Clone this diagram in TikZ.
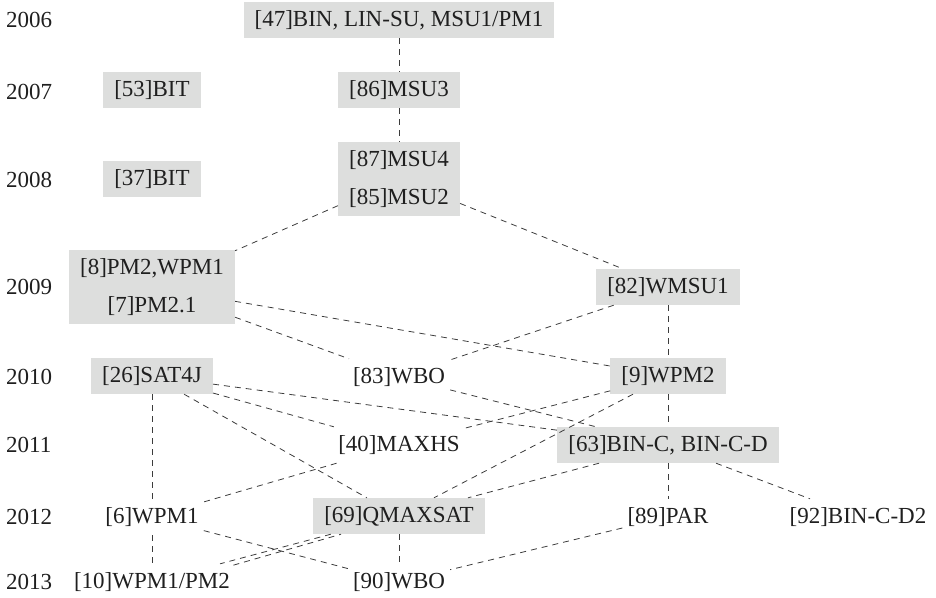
\documentclass[tikz,border=0pt]{standalone}
\usepackage{fontspec}
\setmainfont{Liberation Serif}
\usepackage{xcolor}
\usetikzlibrary{calc}

\definecolor{boxgray}{RGB}{221,222,221}
\definecolor{linkgray}{RGB}{60,60,60}

\begin{document}
\begin{tikzpicture}[x=1pt,y=-1pt,
    every node/.style={font=\fontsize{23}{38}\selectfont, text=black!88},
    box/.style={fill=boxgray, inner xsep=11pt, minimum height=36pt, align=center},
    free/.style={inner xsep=5pt, minimum height=36pt},
    link/.style={draw=linkgray, line width=0.8pt, dash pattern=on 6pt off 5pt}]

% Fix the canvas size
\useasboundingbox (0,0) rectangle (936,597);

% Define the column positions
\def\colA{152}
\def\colB{399}
\def\colC{668}

% Year labels on the left
\foreach \yr/\ypos in {2006/20, 2007/92, 2008/180, 2009/287, 2010/377, 2011/445, 2012/517, 2013/582} {
    \node[anchor=west, inner sep=0pt] (y\yr) at (6,\ypos) {\yr};
}

% Shaded papers
\node[box] (n47) at (\colB,20) {[47]BIN, LIN-SU, MSU1/PM1};
\node[box] (n53) at (\colA,90) {[53]BIT};
\node[box] (n86) at (\colB,90) {[86]MSU3};
\node[box] (n37) at (\colA,179) {[37]BIT};
\node[box, minimum height=74pt] (n85) at (\colB,179) {[87]MSU4\\{}[85]MSU2};
\node[box, minimum height=74pt] (n8) at (\colA,287) {[8]PM2,WPM1\\{}[7]PM2.1};
\node[box] (n82) at (\colC,287) {[82]WMSU1};
\node[box] (n26) at (\colA,376) {[26]SAT4J};
\node[box] (n9) at (\colC,376) {[9]WPM2};
\node[box] (n63) at (\colC,445) {[63]BIN-C, BIN-C-D};
\node[box] (n69) at (\colB,516) {[69]QMAXSAT};

% Plain papers
\node[free] (n83) at (\colB,377) {[83]WBO};
\node[free] (n40) at (\colB,445) {[40]MAXHS};
\node[free] (n6) at (\colA,517) {[6]WPM1};
\node[free] (n89) at (\colC,517) {[89]PAR};
\node[free] (n92) at (858,517) {[92]BIN-C-D2};
\node[free] (n10) at (\colA,582) {[10]WPM1/PM2};
\node[free] (n90) at (\colB,582) {[90]WBO};

% Dependencies
\foreach \from/\to in {n47/n86, n86/n85, n85/n8, n85/n82, n8/n83, n8/n9,
                       n82/n83, n82/n9, n9/n63, n9/n40, n9/n69, n83/n63,
                       n26/n63, n26/n40, n26/n69, n26/n6, n6/n10, n40/n6,
                       n6/n90, n69/n10, n69/n90, n63/n69, n63/n89, n63/n92,
                       n89/n90} {
    \draw[link] (\from) -- (\to);
}
\draw[link, dash phase=4pt] ($(n69.south west)+(28,0)$) -- ($(n10.north east)+(-4,2)$);

\end{tikzpicture}
\end{document}
